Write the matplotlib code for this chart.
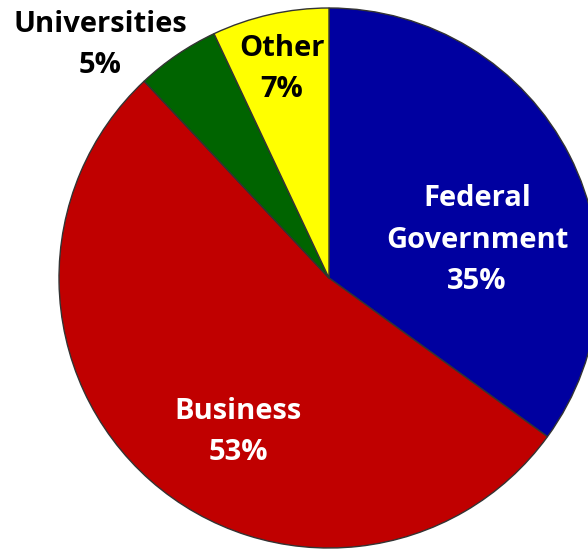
import matplotlib.pyplot as plt
import matplotlib

matplotlib.rcParams['font.family'] = ['Open Sans', 'DejaVu Sans']

# slices, clockwise from 12 o'clock
labels = ['Federal\nGovernment', 'Business', 'Universities', 'Other']
shares = [35, 53, 5, 7]
colors = ['#0000A0', '#C00000', '#006400', '#FFFF00']
text_colors = ['white', 'white', 'black', 'black']

W, H = 588, 549
fig = plt.figure(figsize=(W / 100, H / 100), dpi=100)
ax = fig.add_axes([0, 0, 1, 1])

cx, cy, r = 329, H - 278, 270
ax.pie(shares, colors=colors, startangle=90, counterclock=False,
       center=(cx, cy), radius=r, frame=True,
       wedgeprops=dict(edgecolor='#333333', linewidth=1.0))
ax.set_xlim(0, W)
ax.set_ylim(0, H)
ax.set_aspect('equal')
ax.axis('off')

# label positions in pixel coords (x, y from top)
label_pos = [(477, 240), (238, 432), (100, 45), (282, 69)]
for lab, val, (x, y), c in zip(labels, shares, label_pos, text_colors):
    ax.text(x, H - y, f'{lab}\n{val}%', color=c, ha='center', va='center',
            fontsize=21, fontweight='bold', linespacing=1.57)

fig.savefig('out.png', dpi=100)
